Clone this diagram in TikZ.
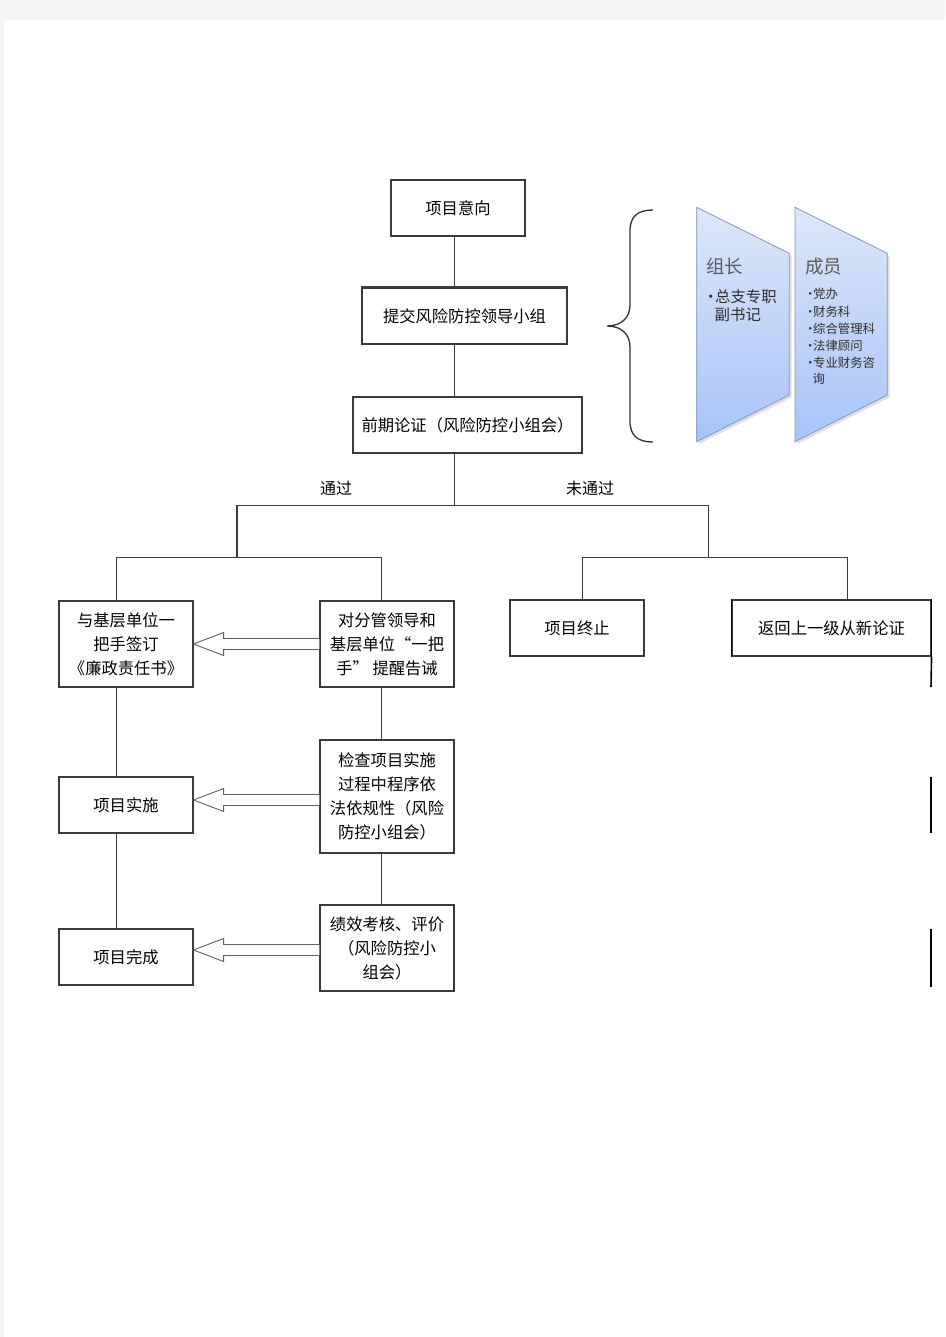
\documentclass[tikz,border=0pt]{standalone}
\usepackage{fontspec}
\newfontfamily\cjk{Noto Sans CJK SC}
\usetikzlibrary{calc}
\definecolor{pagegray}{HTML}{F4F4F4}
\definecolor{lineg}{HTML}{3A3A3A}
\definecolor{trapTop}{HTML}{DDE7FA}
\definecolor{trapBot}{HTML}{A7C3F6}
\definecolor{trapEdge}{HTML}{8797B5}
\definecolor{headg}{HTML}{5B5B5B}
\definecolor{listg}{HTML}{2E2E2E}
\newcommand\hollowarrow[3]{%
  \path ($(#1.west)+(0,#3)$) coordinate (ahs) (#2.east |- ahs) coordinate (aht);
  \filldraw[hollow] ($(ahs)+(0,-5.5)$) -- ($(aht)+(30,-5.5)$) -- ($(aht)+(30,-11.5)$) -- (aht)
     -- ($(aht)+(30,11.5)$) -- ($(aht)+(30,5.5)$) -- ($(ahs)+(0,5.5)$);
}
\newcommand\bul{•\kern-3.5pt}
\begin{document}
\begin{tikzpicture}[x=1pt,y=-1pt,
  box/.style={draw=lineg, line width=1.1pt, fill=white, rectangle, inner sep=0pt, align=center,
    font=\cjk\fontsize{16.3}{24}\selectfont, text=black},
  conn/.style={draw=lineg, line width=1pt},
  hollow/.style={draw=black!62, line width=0.9pt, fill=white, line join=miter},
  lbl/.style={font=\cjk\fontsize{16}{18}\selectfont, inner sep=0pt, text=black},
  head/.style={font=\cjk\fontsize{18.5}{20}\selectfont, text=headg, anchor=west, inner sep=0pt},
  itemA/.style={font=\cjk\fontsize{15.4}{17}\selectfont, text=listg, anchor=west, inner sep=0pt},
  itemB/.style={font=\cjk\fontsize{12.4}{14}\selectfont, text=listg, anchor=west, inner sep=0pt},
  trap/.style={top color=trapTop, bottom color=trapBot, draw=trapEdge, line width=0.8pt},
  brace/.style={draw=black!80, line width=1.3pt}
]
\useasboundingbox (0,0) rectangle (945,1337);
\fill[pagegray] (0,0) rectangle (945,1337);
\fill[white] (4,20) rectangle (945,1337);

% main column
\node[box, minimum width=134pt, minimum height=56pt] (yixiang) at (458,208) {项目意向};
\node[box, minimum width=205pt, minimum height=56pt] (tijiao) at (464.5,316) {提交风险防控领导小组};
\draw[draw=lineg, line width=2pt] (tijiao.north west) -- (tijiao.north east);
\node[box, minimum width=229pt, minimum height=56pt] (qianqi) at (467.5,425) {前期论证（风险防控小组会）};

% left branch boxes
\node[box, minimum width=134pt, minimum height=86pt] (qianyue) at (126,644) {与基层单位一\\把手签订\\《廉政责任书》};
\node[box, minimum width=134pt, minimum height=86pt] (tixing) at (387,644) {对分管领导和\\基层单位“一把\\手” 提醒告诫};
\node[box, minimum width=134pt, minimum height=56pt] (shishi) at (126,805) {项目实施};
\node[box, minimum width=134pt, minimum height=113pt] (jiancha) at (387,796.5) {检查项目实施\\过程中程序依\\法依规性（风险\\防控小组会）};
\node[box, minimum width=134pt, minimum height=56pt] (wancheng) at (126,957) {项目完成};
\node[box, minimum width=134pt, minimum height=86pt] (jixiao) at (387,948) {绩效考核、评价\\（风险防控小\\组会）};

% right branch boxes
\node[box, minimum width=134pt, minimum height=56pt] (zhongzhi) at (577,628) {项目终止};
\node[box, minimum width=199pt, minimum height=56pt] (fanhui) at (831.5,628) {返回上一级从新论证};
\draw[draw=black, line width=1.8pt] (fanhui.north west) -- (fanhui.south west);
\draw[draw=black, line width=1.8pt] (fanhui.north east) -- (fanhui.south east);

% labels
\node[lbl] (tg) at (336,488) {通过};
\node[lbl] (wtg) at (590,488) {未通过};

% connectors
\coordinate (sp) at (454,505);
\draw[conn] (yixiang.south -| sp) -- (tijiao.north -| sp);
\draw[conn] (tijiao.south -| sp) -- (qianqi.north -| sp);
\draw[conn] (qianqi.south -| sp) -- (sp);
\coordinate (passTop) at (237,505);
\coordinate (failTop) at (708,505);
\coordinate (passMid) at (237,557);
\coordinate (failMid) at (708,557);
\draw[conn] (passTop) -- (failTop);
\draw[conn, line width=2pt] (passTop) -- (passMid);
\draw[conn] (failTop) -- (failMid);
\coordinate (qyL) at (116.5,557);
\coordinate (txL) at (381,557);
\draw[conn] (qyL) -- (txL);
\draw[conn] (qyL) -- (qyL |- qianyue.north);
\draw[conn] (txL) -- (txL |- tixing.north);
\coordinate (zzL) at (582.5,557);
\coordinate (fhL) at (847.7,557);
\draw[conn] (zzL) -- (fhL);
\draw[conn] (zzL) -- (zzL |- zhongzhi.north);
\draw[conn] (fhL) -- (fhL |- fanhui.north);
\draw[conn] (qianyue.south -| qyL) -- (shishi.north -| qyL);
\draw[conn] (shishi.south -| qyL) -- (wancheng.north -| qyL);
\draw[conn] (tixing.south -| txL) -- (jiancha.north -| txL);
\draw[conn] (jiancha.south -| txL) -- (jixiao.north -| txL);

% right edge fragments
\coordinate (rf1) at (931,687);
\coordinate (rf2a) at (931,777);
\coordinate (rf2b) at (931,833);
\coordinate (rf3a) at (931,929);
\coordinate (rf3b) at (931,987);
\draw[draw=black, line width=1.6pt] (fanhui.south east) -- (rf1);
\draw[draw=black, line width=1.6pt] (rf2a) -- (rf2b);
\draw[draw=black, line width=1.6pt] (rf3a) -- (rf3b);

% hollow arrows
\hollowarrow{tixing}{qianyue}{0}
\hollowarrow{jiancha}{shishi}{3.5}
\hollowarrow{jixiao}{wancheng}{2}

% brace
\draw[brace] (653,210) .. controls (638,210) and (630,216) .. (630,231) -- (630,305)
  .. controls (630,318) and (621,326) .. (607,326)
  .. controls (621,326) and (630,334) .. (630,347) -- (630,421)
  .. controls (630,436) and (638,442) .. (653,442);

% trapezoids
\fill[black!12] (699,210) -- (791.5,256) -- (791.5,397.5) -- (699,444) -- cycle;
\shade[trap] (696.7,207.3) -- (789.3,253.3) -- (789.3,395) -- (696.7,441.7) -- cycle;
\fill[black!12] (797.5,210) -- (889.5,256) -- (889.5,397.5) -- (797.5,444) -- cycle;
\shade[trap] (795,207.3) -- (887.3,253.3) -- (887.3,395) -- (795,441.7) -- cycle;

\node[head] (zz) at (706,266.7) {组长};
\node[itemA] (za) at (703,296.7) {\bul 总支专职};
\node[itemA] (zb) at (714.5,315) {副书记};

\node[head] (cy) at (805,266.7) {成员};
\node[itemB] (c1) at (804,294.3) {\bul 党办};
\node[itemB] (c2) at (804,311.7) {\bul 财务科};
\node[itemB] (c3) at (804,329) {\bul 综合管理科};
\node[itemB] (c4) at (804,346) {\bul 法律顾问};
\node[itemB] (c5) at (804,363.3) {\bul 专业财务咨};
\node[itemB] (c6) at (812.5,378.3) {询};
\end{tikzpicture}
\end{document}
